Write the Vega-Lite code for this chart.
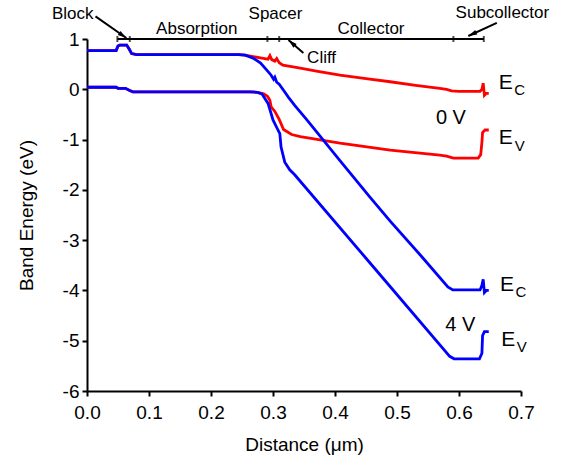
{
  "$schema": "https://vega.github.io/schema/vega-lite/v6.json",
  "width": 434,
  "height": 352,
  "autosize": {"type": "none"},
  "padding": {"left": 87, "top": 39, "right": 42, "bottom": 77},
  "background": "white",
  "config": {
    "view": {"stroke": null},
    "font": "Liberation Sans",
    "axis": {"grid": false, "domainColor": "black", "domainWidth": 2, "tickColor": "black", "tickWidth": 2, "tickSize": 5, "labelColor": "black", "titleColor": "black", "labelFont": "Liberation Sans", "titleFont": "Liberation Sans", "labelFontSize": 19, "titleFontSize": 19, "titleFontWeight": "normal"}
  },
  "datasets": {
    "bands": [
      {"bias": "0 V", "band": "Ec", "x": 0, "E": 0.77},
      {"bias": "0 V", "band": "Ec", "x": 0.047, "E": 0.77},
      {"bias": "0 V", "band": "Ec", "x": 0.05, "E": 0.86},
      {"bias": "0 V", "band": "Ec", "x": 0.053, "E": 0.88},
      {"bias": "0 V", "band": "Ec", "x": 0.064, "E": 0.88},
      {"bias": "0 V", "band": "Ec", "x": 0.068, "E": 0.8},
      {"bias": "0 V", "band": "Ec", "x": 0.072, "E": 0.71},
      {"bias": "0 V", "band": "Ec", "x": 0.08, "E": 0.69},
      {"bias": "0 V", "band": "Ec", "x": 0.15, "E": 0.69},
      {"bias": "0 V", "band": "Ec", "x": 0.245, "E": 0.69},
      {"bias": "0 V", "band": "Ec", "x": 0.255, "E": 0.68},
      {"bias": "0 V", "band": "Ec", "x": 0.268, "E": 0.65},
      {"bias": "0 V", "band": "Ec", "x": 0.282, "E": 0.62},
      {"bias": "0 V", "band": "Ec", "x": 0.292, "E": 0.6},
      {"bias": "0 V", "band": "Ec", "x": 0.295, "E": 0.67},
      {"bias": "0 V", "band": "Ec", "x": 0.298, "E": 0.59},
      {"bias": "0 V", "band": "Ec", "x": 0.303, "E": 0.56},
      {"bias": "0 V", "band": "Ec", "x": 0.306, "E": 0.61},
      {"bias": "0 V", "band": "Ec", "x": 0.31, "E": 0.53},
      {"bias": "0 V", "band": "Ec", "x": 0.316, "E": 0.48},
      {"bias": "0 V", "band": "Ec", "x": 0.33, "E": 0.45},
      {"bias": "0 V", "band": "Ec", "x": 0.344, "E": 0.42},
      {"bias": "0 V", "band": "Ec", "x": 0.37, "E": 0.36},
      {"bias": "0 V", "band": "Ec", "x": 0.408, "E": 0.28},
      {"bias": "0 V", "band": "Ec", "x": 0.45, "E": 0.21},
      {"bias": "0 V", "band": "Ec", "x": 0.489, "E": 0.15},
      {"bias": "0 V", "band": "Ec", "x": 0.53, "E": 0.08},
      {"bias": "0 V", "band": "Ec", "x": 0.569, "E": 0.02},
      {"bias": "0 V", "band": "Ec", "x": 0.58, "E": 0.0},
      {"bias": "0 V", "band": "Ec", "x": 0.588, "E": -0.03},
      {"bias": "0 V", "band": "Ec", "x": 0.6, "E": -0.04},
      {"bias": "0 V", "band": "Ec", "x": 0.634, "E": -0.04},
      {"bias": "0 V", "band": "Ec", "x": 0.637, "E": 0.0},
      {"bias": "0 V", "band": "Ec", "x": 0.639, "E": 0.12},
      {"bias": "0 V", "band": "Ec", "x": 0.641, "E": -0.12},
      {"bias": "0 V", "band": "Ec", "x": 0.644, "E": -0.08},
      {"bias": "0 V", "band": "Ec", "x": 0.648, "E": -0.08},

      {"bias": "0 V", "band": "Ev", "x": 0, "E": 0.04},
      {"bias": "0 V", "band": "Ev", "x": 0.047, "E": 0.04},
      {"bias": "0 V", "band": "Ev", "x": 0.05, "E": 0.02},
      {"bias": "0 V", "band": "Ev", "x": 0.062, "E": 0.02},
      {"bias": "0 V", "band": "Ev", "x": 0.068, "E": -0.02},
      {"bias": "0 V", "band": "Ev", "x": 0.074, "E": -0.05},
      {"bias": "0 V", "band": "Ev", "x": 0.15, "E": -0.05},
      {"bias": "0 V", "band": "Ev", "x": 0.25, "E": -0.05},
      {"bias": "0 V", "band": "Ev", "x": 0.262, "E": -0.05},
      {"bias": "0 V", "band": "Ev", "x": 0.275, "E": -0.06},
      {"bias": "0 V", "band": "Ev", "x": 0.285, "E": -0.09},
      {"bias": "0 V", "band": "Ev", "x": 0.291, "E": -0.14},
      {"bias": "0 V", "band": "Ev", "x": 0.295, "E": -0.22},
      {"bias": "0 V", "band": "Ev", "x": 0.297, "E": -0.35},
      {"bias": "0 V", "band": "Ev", "x": 0.303, "E": -0.44},
      {"bias": "0 V", "band": "Ev", "x": 0.31, "E": -0.6},
      {"bias": "0 V", "band": "Ev", "x": 0.317, "E": -0.8},
      {"bias": "0 V", "band": "Ev", "x": 0.33, "E": -0.9},
      {"bias": "0 V", "band": "Ev", "x": 0.344, "E": -0.94},
      {"bias": "0 V", "band": "Ev", "x": 0.408, "E": -1.07},
      {"bias": "0 V", "band": "Ev", "x": 0.489, "E": -1.21},
      {"bias": "0 V", "band": "Ev", "x": 0.569, "E": -1.31},
      {"bias": "0 V", "band": "Ev", "x": 0.58, "E": -1.33},
      {"bias": "0 V", "band": "Ev", "x": 0.591, "E": -1.37},
      {"bias": "0 V", "band": "Ev", "x": 0.631, "E": -1.37},
      {"bias": "0 V", "band": "Ev", "x": 0.635, "E": -1.3},
      {"bias": "0 V", "band": "Ev", "x": 0.637, "E": -1.05},
      {"bias": "0 V", "band": "Ev", "x": 0.638, "E": -0.86},
      {"bias": "0 V", "band": "Ev", "x": 0.642, "E": -0.81},
      {"bias": "0 V", "band": "Ev", "x": 0.648, "E": -0.81},

      {"bias": "4 V", "band": "Ec", "x": 0, "E": 0.77},
      {"bias": "4 V", "band": "Ec", "x": 0.047, "E": 0.77},
      {"bias": "4 V", "band": "Ec", "x": 0.05, "E": 0.86},
      {"bias": "4 V", "band": "Ec", "x": 0.053, "E": 0.88},
      {"bias": "4 V", "band": "Ec", "x": 0.064, "E": 0.88},
      {"bias": "4 V", "band": "Ec", "x": 0.068, "E": 0.8},
      {"bias": "4 V", "band": "Ec", "x": 0.072, "E": 0.71},
      {"bias": "4 V", "band": "Ec", "x": 0.08, "E": 0.69},
      {"bias": "4 V", "band": "Ec", "x": 0.15, "E": 0.69},
      {"bias": "4 V", "band": "Ec", "x": 0.245, "E": 0.69},
      {"bias": "4 V", "band": "Ec", "x": 0.255, "E": 0.68},
      {"bias": "4 V", "band": "Ec", "x": 0.268, "E": 0.62},
      {"bias": "4 V", "band": "Ec", "x": 0.28, "E": 0.52},
      {"bias": "4 V", "band": "Ec", "x": 0.29, "E": 0.38},
      {"bias": "4 V", "band": "Ec", "x": 0.297, "E": 0.28},
      {"bias": "4 V", "band": "Ec", "x": 0.301, "E": 0.2},
      {"bias": "4 V", "band": "Ec", "x": 0.303, "E": 0.24},
      {"bias": "4 V", "band": "Ec", "x": 0.306, "E": 0.14},
      {"bias": "4 V", "band": "Ec", "x": 0.31, "E": 0.1},
      {"bias": "4 V", "band": "Ec", "x": 0.317, "E": -0.02},
      {"bias": "4 V", "band": "Ec", "x": 0.325, "E": -0.16},
      {"bias": "4 V", "band": "Ec", "x": 0.335, "E": -0.32},
      {"bias": "4 V", "band": "Ec", "x": 0.354, "E": -0.6},
      {"bias": "4 V", "band": "Ec", "x": 0.408, "E": -1.42},
      {"bias": "4 V", "band": "Ec", "x": 0.456, "E": -2.14},
      {"bias": "4 V", "band": "Ec", "x": 0.489, "E": -2.62},
      {"bias": "4 V", "band": "Ec", "x": 0.54, "E": -3.33},
      {"bias": "4 V", "band": "Ec", "x": 0.582, "E": -3.93},
      {"bias": "4 V", "band": "Ec", "x": 0.59, "E": -3.99},
      {"bias": "4 V", "band": "Ec", "x": 0.634, "E": -3.99},
      {"bias": "4 V", "band": "Ec", "x": 0.637, "E": -3.9},
      {"bias": "4 V", "band": "Ec", "x": 0.639, "E": -3.78},
      {"bias": "4 V", "band": "Ec", "x": 0.641, "E": -4.04},
      {"bias": "4 V", "band": "Ec", "x": 0.644, "E": -4.0},
      {"bias": "4 V", "band": "Ec", "x": 0.648, "E": -4.0},

      {"bias": "4 V", "band": "Ev", "x": 0, "E": 0.04},
      {"bias": "4 V", "band": "Ev", "x": 0.047, "E": 0.04},
      {"bias": "4 V", "band": "Ev", "x": 0.05, "E": 0.02},
      {"bias": "4 V", "band": "Ev", "x": 0.062, "E": 0.02},
      {"bias": "4 V", "band": "Ev", "x": 0.068, "E": -0.02},
      {"bias": "4 V", "band": "Ev", "x": 0.074, "E": -0.05},
      {"bias": "4 V", "band": "Ev", "x": 0.15, "E": -0.05},
      {"bias": "4 V", "band": "Ev", "x": 0.25, "E": -0.05},
      {"bias": "4 V", "band": "Ev", "x": 0.263, "E": -0.05},
      {"bias": "4 V", "band": "Ev", "x": 0.275, "E": -0.06},
      {"bias": "4 V", "band": "Ev", "x": 0.282, "E": -0.09},
      {"bias": "4 V", "band": "Ev", "x": 0.292, "E": -0.28},
      {"bias": "4 V", "band": "Ev", "x": 0.3, "E": -0.61},
      {"bias": "4 V", "band": "Ev", "x": 0.306, "E": -0.76},
      {"bias": "4 V", "band": "Ev", "x": 0.311, "E": -0.88},
      {"bias": "4 V", "band": "Ev", "x": 0.313, "E": -1.15},
      {"bias": "4 V", "band": "Ev", "x": 0.319, "E": -1.45},
      {"bias": "4 V", "band": "Ev", "x": 0.327, "E": -1.6},
      {"bias": "4 V", "band": "Ev", "x": 0.335, "E": -1.7},
      {"bias": "4 V", "band": "Ev", "x": 0.45, "E": -3.36},
      {"bias": "4 V", "band": "Ev", "x": 0.585, "E": -5.31},
      {"bias": "4 V", "band": "Ev", "x": 0.592, "E": -5.36},
      {"bias": "4 V", "band": "Ev", "x": 0.633, "E": -5.36},
      {"bias": "4 V", "band": "Ev", "x": 0.637, "E": -5.25},
      {"bias": "4 V", "band": "Ev", "x": 0.638, "E": -4.9},
      {"bias": "4 V", "band": "Ev", "x": 0.641, "E": -4.82},
      {"bias": "4 V", "band": "Ev", "x": 0.648, "E": -4.82}
    ],
    "bigLabels": [
      {"x": 0.664, "E": 0.12, "text": "E"},
      {"x": 0.664, "E": -0.97, "text": "E"},
      {"x": 0.666, "E": -3.89, "text": "E"},
      {"x": 0.668, "E": -4.98, "text": "E"}
    ],
    "subLabels": [
      {"x": 0.689, "E": -0.02, "text": "C"},
      {"x": 0.69, "E": -1.12, "text": "V"},
      {"x": 0.691, "E": -4.04, "text": "C"},
      {"x": 0.693, "E": -5.13, "text": "V"}
    ],
    "biasLabels": [
      {"x": 0.587, "E": -0.57, "text": "0 V"},
      {"x": 0.602, "E": -4.69, "text": "4 V"}
    ],
    "regions": [
      {"x": -0.023, "E": 1.49, "text": "Block"},
      {"x": 0.177, "E": 1.2, "text": "Absorption"},
      {"x": 0.304, "E": 1.5, "text": "Spacer"},
      {"x": 0.458, "E": 1.2, "text": "Collector"},
      {"x": 0.67, "E": 1.52, "text": "Subcollector"}
    ],
    "bar": [{"x": 0.049, "x2": 0.64, "E": 1}],
    "barTicks": [
      {"x": 0.049, "E": 1}, {"x": 0.069, "E": 1}, {"x": 0.291, "E": 1},
      {"x": 0.31, "E": 1}, {"x": 0.591, "E": 1}, {"x": 0.64, "E": 1}
    ],
    "arrows": [
      {"name": "Block", "x": 0.0137, "E": 1.45, "x2": 0.0635, "E2": 1.02},
      {"name": "Subcollector", "x": 0.661, "E": 1.32, "x2": 0.615, "E2": 1.06},
      {"name": "Cliff", "x": 0.349, "E": 0.72, "x2": 0.325, "E2": 0.98}
    ]
  },
  "layer": [
    {
      "data": {"name": "bands"},
      "mark": {"type": "line", "strokeWidth": 2.8, "clip": false},
      "encoding": {
        "x": {"field": "x", "type": "quantitative", "scale": {"domain": [0, 0.7], "nice": false},
          "axis": {"title": "Distance (μm)", "values": [0, 0.1, 0.2, 0.3, 0.4, 0.5, 0.6, 0.7], "format": ".1f", "labelPadding": 7, "titlePadding": 13, "labelFlush": false}},
        "y": {"field": "E", "type": "quantitative", "scale": {"domain": [-6, 1], "nice": false},
          "axis": {"title": "Band Energy (eV)", "values": [-6, -5, -4, -3, -2, -1, 0, 1], "labelExpr": "toString(datum.value)", "labelPadding": 3, "titlePadding": 26, "labelFlush": false}},
        "color": {"field": "bias", "type": "nominal", "scale": {"domain": ["0 V", "4 V"], "range": ["#ff0000", "#0000ff"]}, "legend": null},
        "detail": {"field": "band"}
      }
    },
    {
      "data": {"name": "bar"},
      "mark": {"type": "rule", "color": "black", "strokeWidth": 2},
      "encoding": {
        "x": {"field": "x", "type": "quantitative"},
        "x2": {"field": "x2"},
        "y": {"field": "E", "type": "quantitative"}
      }
    },
    {
      "data": {"name": "barTicks"},
      "mark": {"type": "tick", "orient": "vertical", "color": "black", "size": 6, "thickness": 2},
      "encoding": {
        "x": {"field": "x", "type": "quantitative"},
        "y": {"field": "E", "type": "quantitative"}
      }
    },
    {
      "data": {"name": "arrows"},
      "mark": {"type": "rule", "color": "black", "strokeWidth": 2},
      "encoding": {
        "x": {"field": "x", "type": "quantitative"},
        "y": {"field": "E", "type": "quantitative"},
        "x2": {"field": "x2"},
        "y2": {"field": "E2"}
      }
    },
    {
      "data": {"name": "arrows"},
      "transform": [{"filter": "datum.name === 'Block'"}],
      "mark": {"type": "point", "shape": "M0,0L0.6,2.2L-0.6,2.2Z", "filled": true, "color": "black", "opacity": 1, "size": 64, "angle": 125},
      "encoding": {
        "x": {"field": "x2", "type": "quantitative"},
        "y": {"field": "E2", "type": "quantitative"}
      }
    },
    {
      "data": {"name": "arrows"},
      "transform": [{"filter": "datum.name === 'Subcollector'"}],
      "mark": {"type": "point", "shape": "M0,0L0.6,2.2L-0.6,2.2Z", "filled": true, "color": "black", "opacity": 1, "size": 64, "angle": 245},
      "encoding": {
        "x": {"field": "x2", "type": "quantitative"},
        "y": {"field": "E2", "type": "quantitative"}
      }
    },
    {
      "data": {"name": "arrows"},
      "transform": [{"filter": "datum.name === 'Cliff'"}],
      "mark": {"type": "point", "shape": "M0,0L0.6,2.2L-0.6,2.2Z", "filled": true, "color": "black", "opacity": 1, "size": 64, "angle": 312},
      "encoding": {
        "x": {"field": "x2", "type": "quantitative"},
        "y": {"field": "E2", "type": "quantitative"}
      }
    },
    {
      "data": {"values": [{"x": 0.355, "E": 0.62, "text": "Cliff"}]},
      "mark": {"type": "text", "align": "left", "baseline": "middle", "fontSize": 17, "color": "black"},
      "encoding": {
        "x": {"field": "x", "type": "quantitative"},
        "y": {"field": "E", "type": "quantitative"},
        "text": {"field": "text"}
      }
    },
    {
      "data": {"name": "regions"},
      "mark": {"type": "text", "align": "center", "baseline": "middle", "fontSize": 17, "color": "black"},
      "encoding": {
        "x": {"field": "x", "type": "quantitative"},
        "y": {"field": "E", "type": "quantitative"},
        "text": {"field": "text"}
      }
    },
    {
      "data": {"name": "bigLabels"},
      "mark": {"type": "text", "align": "left", "baseline": "middle", "fontSize": 21, "color": "black"},
      "encoding": {
        "x": {"field": "x", "type": "quantitative"},
        "y": {"field": "E", "type": "quantitative"},
        "text": {"field": "text"}
      }
    },
    {
      "data": {"name": "subLabels"},
      "mark": {"type": "text", "align": "left", "baseline": "middle", "fontSize": 15, "color": "black"},
      "encoding": {
        "x": {"field": "x", "type": "quantitative"},
        "y": {"field": "E", "type": "quantitative"},
        "text": {"field": "text"}
      }
    },
    {
      "data": {"name": "biasLabels"},
      "mark": {"type": "text", "align": "center", "baseline": "middle", "fontSize": 20, "color": "black"},
      "encoding": {
        "x": {"field": "x", "type": "quantitative"},
        "y": {"field": "E", "type": "quantitative"},
        "text": {"field": "text"}
      }
    }
  ]
}
